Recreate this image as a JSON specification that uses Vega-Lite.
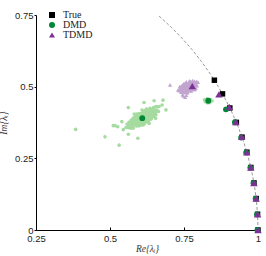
{
  "$schema": "https://vega.github.io/schema/vega-lite/v6.json",
  "autosize": {"type": "none"},
  "width": 222,
  "height": 215,
  "padding": {"left": 36, "top": 15, "right": 8, "bottom": 26},
  "background": "white",
  "config": {
    "view": {"stroke": null},
    "axis": {
      "grid": false,
      "domainColor": "black",
      "domainWidth": 1,
      "tickColor": "black",
      "labelFont": "Liberation Sans",
      "labelFontSize": 9.5,
      "labelColor": "#222",
      "titleFont": "Liberation Serif",
      "titleFontStyle": "italic",
      "titleFontWeight": "normal",
      "titleFontSize": 9.5,
      "titleColor": "#333"
    },
    "legend": {
      "orient": "none", "legendX": 11, "legendY": -5, "padding": 0,
      "labelFont": "Liberation Serif", "labelFontSize": 10, "labelColor": "#222",
      "rowPadding": -2, "labelOffset": 6, "symbolStrokeWidth": 0, "symbolSize": 36
    }
  },
  "datasets": {
    "circle": [
      {"a": 0, "x": 1.0, "y": 0.0},
      {"a": 3, "x": 0.99863, "y": 0.05234},
      {"a": 6, "x": 0.99452, "y": 0.10453},
      {"a": 9, "x": 0.98769, "y": 0.15643},
      {"a": 12, "x": 0.97815, "y": 0.20791},
      {"a": 15, "x": 0.96593, "y": 0.25882},
      {"a": 18, "x": 0.95106, "y": 0.30902},
      {"a": 21, "x": 0.93358, "y": 0.35837},
      {"a": 24, "x": 0.91355, "y": 0.40674},
      {"a": 27, "x": 0.89101, "y": 0.45399},
      {"a": 30, "x": 0.86603, "y": 0.5},
      {"a": 33, "x": 0.83867, "y": 0.54464},
      {"a": 36, "x": 0.80902, "y": 0.58779},
      {"a": 39, "x": 0.77715, "y": 0.62932},
      {"a": 42, "x": 0.74314, "y": 0.66913},
      {"a": 45, "x": 0.70711, "y": 0.70711},
      {"a": 48, "x": 0.66913, "y": 0.74314},
      {"a": 48.59, "x": 0.66144, "y": 0.75}
    ],
    "greenCloud": [
      {"x": 0.597, "y": 0.3884}, {"x": 0.632, "y": 0.3947}, {"x": 0.574, "y": 0.3678}, {"x": 0.617, "y": 0.4084},
      {"x": 0.650, "y": 0.4186}, {"x": 0.604, "y": 0.3703}, {"x": 0.582, "y": 0.3862}, {"x": 0.624, "y": 0.4003},
      {"x": 0.642, "y": 0.3942}, {"x": 0.561, "y": 0.3576}, {"x": 0.611, "y": 0.3891}, {"x": 0.590, "y": 0.3676},
      {"x": 0.636, "y": 0.4179}, {"x": 0.600, "y": 0.4061}, {"x": 0.661, "y": 0.4146}, {"x": 0.578, "y": 0.3810},
      {"x": 0.620, "y": 0.3871}, {"x": 0.607, "y": 0.3959}, {"x": 0.647, "y": 0.4269}, {"x": 0.567, "y": 0.3699},
      {"x": 0.628, "y": 0.3815}, {"x": 0.594, "y": 0.3828}, {"x": 0.615, "y": 0.3803}, {"x": 0.638, "y": 0.4100},
      {"x": 0.585, "y": 0.3678}, {"x": 0.654, "y": 0.4038}, {"x": 0.602, "y": 0.3982}, {"x": 0.571, "y": 0.3551},
      {"x": 0.622, "y": 0.4152}, {"x": 0.588, "y": 0.3955}, {"x": 0.666, "y": 0.4304}, {"x": 0.612, "y": 0.3857},
      {"x": 0.596, "y": 0.3629}, {"x": 0.633, "y": 0.4022}, {"x": 0.554, "y": 0.3578}, {"x": 0.644, "y": 0.4203},
      {"x": 0.606, "y": 0.3784}, {"x": 0.626, "y": 0.4064}, {"x": 0.580, "y": 0.3691}, {"x": 0.618, "y": 0.4170},
      {"x": 0.592, "y": 0.3867}, {"x": 0.656, "y": 0.4179}, {"x": 0.564, "y": 0.3753}, {"x": 0.630, "y": 0.4116},
      {"x": 0.598, "y": 0.3800}, {"x": 0.640, "y": 0.4001}, {"x": 0.584, "y": 0.3913}, {"x": 0.609, "y": 0.3930},
      {"x": 0.649, "y": 0.3960}, {"x": 0.576, "y": 0.3609}, {"x": 0.623, "y": 0.3827}, {"x": 0.603, "y": 0.4027},
      {"x": 0.635, "y": 0.4243}, {"x": 0.569, "y": 0.3680}, {"x": 0.616, "y": 0.4029}, {"x": 0.589, "y": 0.3630},
      {"x": 0.659, "y": 0.4295}, {"x": 0.595, "y": 0.3953}, {"x": 0.645, "y": 0.4068}, {"x": 0.608, "y": 0.3675},
      {"x": 0.627, "y": 0.3959}, {"x": 0.573, "y": 0.3752}, {"x": 0.613, "y": 0.4112}, {"x": 0.639, "y": 0.4145},
      {"x": 0.586, "y": 0.3764}, {"x": 0.621, "y": 0.3856}, {"x": 0.601, "y": 0.3786}, {"x": 0.652, "y": 0.4047},
      {"x": 0.558, "y": 0.3690}, {"x": 0.631, "y": 0.4171}, {"x": 0.593, "y": 0.3912}, {"x": 0.619, "y": 0.3965},
      {"x": 0.579, "y": 0.3555}, {"x": 0.643, "y": 0.4087}, {"x": 0.605, "y": 0.3958}, {"x": 0.664, "y": 0.4133},
      {"x": 0.583, "y": 0.3777}, {"x": 0.625, "y": 0.3778}, {"x": 0.599, "y": 0.3705}, {"x": 0.634, "y": 0.3918},
      {"x": 0.572, "y": 0.3837}, {"x": 0.610, "y": 0.4026}, {"x": 0.648, "y": 0.4165}, {"x": 0.591, "y": 0.3731},
      {"x": 0.629, "y": 0.4050}, {"x": 0.565, "y": 0.3568}, {"x": 0.637, "y": 0.3874}, {"x": 0.587, "y": 0.3979},
      {"x": 0.614, "y": 0.3748}, {"x": 0.655, "y": 0.4303},
      {"x": 0.5994, "y": 0.3808}, {"x": 0.6274, "y": 0.4061}, {"x": 0.581, "y": 0.3807}, {"x": 0.6154, "y": 0.3788},
      {"x": 0.6418, "y": 0.3984}, {"x": 0.605, "y": 0.4052}, {"x": 0.5874, "y": 0.3695}, {"x": 0.621, "y": 0.3933},
      {"x": 0.6354, "y": 0.4156}, {"x": 0.5706, "y": 0.3791}, {"x": 0.6106, "y": 0.3927}, {"x": 0.5938, "y": 0.3953},
      {"x": 0.6306, "y": 0.3865}, {"x": 0.6018, "y": 0.3658}, {"x": 0.6506, "y": 0.4123}, {"x": 0.5842, "y": 0.3711},
      {"x": 0.6178, "y": 0.4029}, {"x": 0.6074, "y": 0.3823}, {"x": 0.6394, "y": 0.3874}, {"x": 0.5754, "y": 0.3722},
      {"x": 0.6242, "y": 0.4157}, {"x": 0.597, "y": 0.3837}, {"x": 0.6138, "y": 0.4051}, {"x": 0.6322, "y": 0.3962},
      {"x": 0.5898, "y": 0.3906}, {"x": 0.645, "y": 0.4168}, {"x": 0.6034, "y": 0.3755}, {"x": 0.5786, "y": 0.3906},
      {"x": 0.6194, "y": 0.3766}, {"x": 0.5922, "y": 0.3656}, {"x": 0.6546, "y": 0.4011}, {"x": 0.6114, "y": 0.3971},
      {"x": 0.5986, "y": 0.4054}, {"x": 0.6282, "y": 0.3995}, {"x": 0.565, "y": 0.3726}, {"x": 0.637, "y": 0.3913},
      {"x": 0.6066, "y": 0.3989}, {"x": 0.6226, "y": 0.3890}, {"x": 0.5858, "y": 0.3848}, {"x": 0.6162, "y": 0.3712},
      {"x": 0.5954, "y": 0.3780}, {"x": 0.6466, "y": 0.4045}, {"x": 0.573, "y": 0.3642}, {"x": 0.6258, "y": 0.3874},
      {"x": 0.6002, "y": 0.3901}, {"x": 0.6338, "y": 0.4079}, {"x": 0.589, "y": 0.3662}, {"x": 0.609, "y": 0.387},
      {"x": 0.641, "y": 0.4201}, {"x": 0.5826, "y": 0.3894},
      {"x": 0.6216, "y": 0.4137}, {"x": 0.6036, "y": 0.3674}, {"x": 0.6324, "y": 0.3718}, {"x": 0.573, "y": 0.378},
      {"x": 0.6153, "y": 0.3804}, {"x": 0.591, "y": 0.4048}, {"x": 0.654, "y": 0.3894}, {"x": 0.5964, "y": 0.3689},
      {"x": 0.6414, "y": 0.4047}, {"x": 0.6081, "y": 0.4183}, {"x": 0.6252, "y": 0.4006}, {"x": 0.5766, "y": 0.3727},
      {"x": 0.6126, "y": 0.3665}, {"x": 0.636, "y": 0.3886}, {"x": 0.5883, "y": 0.3844}, {"x": 0.6198, "y": 0.4079},
      {"x": 0.6018, "y": 0.3967}, {"x": 0.6477, "y": 0.4146}, {"x": 0.5631, "y": 0.3656}, {"x": 0.6288, "y": 0.3771},
      {"x": 0.5946, "y": 0.3722}, {"x": 0.618, "y": 0.3917}, {"x": 0.582, "y": 0.4044}, {"x": 0.6396, "y": 0.4002},
      {"x": 0.6054, "y": 0.3784}, {"x": 0.6585, "y": 0.4156}, {"x": 0.5856, "y": 0.3796}, {"x": 0.6234, "y": 0.4221},
      {"x": 0.600, "y": 0.4052}, {"x": 0.6315, "y": 0.4131},
      {"x": 0.384, "y": 0.351}, {"x": 0.483, "y": 0.325}, {"x": 0.531, "y": 0.296}, {"x": 0.594, "y": 0.320},
      {"x": 0.562, "y": 0.427}, {"x": 0.679, "y": 0.453}, {"x": 0.649, "y": 0.451}, {"x": 0.615, "y": 0.445},
      {"x": 0.517, "y": 0.364}, {"x": 0.689, "y": 0.419}, {"x": 0.511, "y": 0.364}, {"x": 0.526, "y": 0.360},
      {"x": 0.540, "y": 0.378}, {"x": 0.562, "y": 0.334}, {"x": 0.545, "y": 0.350}, {"x": 0.676, "y": 0.436},
      {"x": 0.822, "y": 0.447}, {"x": 0.840, "y": 0.455}, {"x": 0.828, "y": 0.458}, {"x": 0.837, "y": 0.444},
      {"x": 0.825, "y": 0.452}, {"x": 0.845, "y": 0.450}, {"x": 0.830, "y": 0.443}, {"x": 0.819, "y": 0.454},
      {"x": 0.888, "y": 0.418}, {"x": 0.896, "y": 0.424}, {"x": 0.919, "y": 0.373}, {"x": 0.926, "y": 0.379}
    ],
    "purpleCloud": [
      {"x": 0.7558, "y": 0.5017}, {"x": 0.7768, "y": 0.4953}, {"x": 0.742, "y": 0.4911}, {"x": 0.7678, "y": 0.5128},
      {"x": 0.7876, "y": 0.5106}, {"x": 0.760, "y": 0.4830}, {"x": 0.7468, "y": 0.5049}, {"x": 0.772, "y": 0.5031},
      {"x": 0.7828, "y": 0.4914}, {"x": 0.7342, "y": 0.4864}, {"x": 0.7642, "y": 0.4975}, {"x": 0.7516, "y": 0.4854},
      {"x": 0.7792, "y": 0.5148}, {"x": 0.7576, "y": 0.5166}, {"x": 0.7942, "y": 0.5032}, {"x": 0.7444, "y": 0.5016},
      {"x": 0.7696, "y": 0.4926}, {"x": 0.7618, "y": 0.5050}, {"x": 0.7858, "y": 0.5191}, {"x": 0.7378, "y": 0.4954},
      {"x": 0.7744, "y": 0.4848}, {"x": 0.754, "y": 0.4977}, {"x": 0.7666, "y": 0.4882}, {"x": 0.7804, "y": 0.5070},
      {"x": 0.7486, "y": 0.4873}, {"x": 0.790, "y": 0.4959}, {"x": 0.7588, "y": 0.5088}, {"x": 0.7402, "y": 0.4807},
      {"x": 0.7708, "y": 0.5172}, {"x": 0.7504, "y": 0.5112}, {"x": 0.7972, "y": 0.5157}, {"x": 0.7648, "y": 0.4941},
      {"x": 0.7552, "y": 0.4791}, {"x": 0.7774, "y": 0.5017}, {"x": 0.730, "y": 0.4890}, {"x": 0.784, "y": 0.5142},
      {"x": 0.7612, "y": 0.4896}, {"x": 0.7732, "y": 0.5079}, {"x": 0.7456, "y": 0.4902}, {"x": 0.7684, "y": 0.5202},
      {"x": 0.7528, "y": 0.5019}, {"x": 0.7912, "y": 0.5079}, {"x": 0.736, "y": 0.5013}, {"x": 0.7756, "y": 0.5112},
      {"x": 0.7564, "y": 0.4938}, {"x": 0.7816, "y": 0.4974}, {"x": 0.748, "y": 0.5088}, {"x": 0.763, "y": 0.5017},
      {"x": 0.787, "y": 0.4906}, {"x": 0.7432, "y": 0.4842}, {"x": 0.7714, "y": 0.4876}, {"x": 0.7594, "y": 0.5125},
      {"x": 0.7786, "y": 0.5209}, {"x": 0.739, "y": 0.4930}, {"x": 0.7672, "y": 0.5082}, {"x": 0.751, "y": 0.4816},
      {"x": 0.793, "y": 0.5173}, {"x": 0.7546, "y": 0.5086}, {"x": 0.7846, "y": 0.5017}, {"x": 0.7624, "y": 0.4790},
      {"x": 0.757, "y": 0.4936}, {"x": 0.7745, "y": 0.5082}, {"x": 0.7455, "y": 0.4972}, {"x": 0.767, "y": 0.4888},
      {"x": 0.7835, "y": 0.4991}, {"x": 0.7605, "y": 0.5120}, {"x": 0.7495, "y": 0.4870}, {"x": 0.7705, "y": 0.4992},
      {"x": 0.7795, "y": 0.5142}, {"x": 0.739, "y": 0.4980}, {"x": 0.764, "y": 0.5008}, {"x": 0.7535, "y": 0.5063},
      {"x": 0.7765, "y": 0.4918}, {"x": 0.7585, "y": 0.4811}, {"x": 0.789, "y": 0.5084}, {"x": 0.7475, "y": 0.4889},
      {"x": 0.7685, "y": 0.5075}, {"x": 0.762, "y": 0.4932}, {"x": 0.782, "y": 0.4908}, {"x": 0.742, "y": 0.4916},
      {"x": 0.7725, "y": 0.5165}, {"x": 0.7555, "y": 0.4964}, {"x": 0.766, "y": 0.5101}, {"x": 0.7775, "y": 0.4993},
      {"x": 0.751, "y": 0.5033}, {"x": 0.7855, "y": 0.5132}, {"x": 0.7595, "y": 0.4886}, {"x": 0.744, "y": 0.5056},
      {"x": 0.7695, "y": 0.4862}, {"x": 0.7525, "y": 0.4829},
      {"x": 0.748, "y": 0.468}, {"x": 0.754, "y": 0.463}, {"x": 0.745, "y": 0.472}, {"x": 0.758, "y": 0.470},
      {"x": 0.703, "y": 0.506}
    ],
    "main": [
      {"series": "True", "x": 1.0, "y": 0.0},
      {"series": "True", "x": 0.99849, "y": 0.05495},
      {"series": "True", "x": 0.99396, "y": 0.10973},
      {"series": "True", "x": 0.98643, "y": 0.16419},
      {"series": "True", "x": 0.97592, "y": 0.21814},
      {"series": "True", "x": 0.96246, "y": 0.27144},
      {"series": "True", "x": 0.94609, "y": 0.32392},
      {"series": "True", "x": 0.92686, "y": 0.37541},
      {"series": "True", "x": 0.90483, "y": 0.42578},
      {"series": "True", "x": 0.88006, "y": 0.47486},
      {"series": "True", "x": 0.85264, "y": 0.5225},
      {"series": "DMD", "x": 0.998, "y": 0.0},
      {"series": "DMD", "x": 0.9965, "y": 0.0548},
      {"series": "DMD", "x": 0.992, "y": 0.1095},
      {"series": "DMD", "x": 0.9845, "y": 0.1638},
      {"series": "DMD", "x": 0.974, "y": 0.2176},
      {"series": "DMD", "x": 0.960, "y": 0.2705},
      {"series": "DMD", "x": 0.943, "y": 0.3225},
      {"series": "DMD", "x": 0.922, "y": 0.3760},
      {"series": "DMD", "x": 0.892, "y": 0.4210},
      {"series": "DMD", "x": 0.832, "y": 0.4510},
      {"series": "DMD", "x": 0.609, "y": 0.3900},
      {"series": "TDMD", "x": 1.0, "y": 0.0},
      {"series": "TDMD", "x": 0.9985, "y": 0.0549},
      {"series": "TDMD", "x": 0.9938, "y": 0.1097},
      {"series": "TDMD", "x": 0.9862, "y": 0.1641},
      {"series": "TDMD", "x": 0.9756, "y": 0.2180},
      {"series": "TDMD", "x": 0.9620, "y": 0.2712},
      {"series": "TDMD", "x": 0.9450, "y": 0.3250},
      {"series": "TDMD", "x": 0.9250, "y": 0.3770},
      {"series": "TDMD", "x": 0.9030, "y": 0.4290},
      {"series": "TDMD", "x": 0.8680, "y": 0.4730},
      {"series": "TDMD", "x": 0.7780, "y": 0.5020}
    ]
  },
  "encoding": {
    "x": {
      "field": "x", "type": "quantitative",
      "scale": {"domain": [0.25, 1], "nice": false, "zero": false},
      "axis": {"values": [0.25, 0.5, 0.75, 1], "labelExpr": "datum.value == 1 ? '1' : format(datum.value, '.2~f')", "tickSize": -3, "labelPadding": 6, "title": "Re{λᵢ}", "titlePadding": 1, "labelFlush": false}
    },
    "y": {
      "field": "y", "type": "quantitative",
      "scale": {"domain": [0, 0.75], "nice": false},
      "axis": {"values": [0, 0.25, 0.5, 0.75], "labelExpr": "datum.value == 0 ? '0' : format(datum.value, '.2~f')", "tickSize": 2, "labelPadding": 1, "title": "Im{λᵢ}", "titlePadding": 6, "labelFlush": false}
    }
  },
  "layer": [
    {
      "data": {"name": "greenCloud"},
      "mark": {"type": "point", "shape": "circle", "filled": true, "size": 13, "color": "#a6dba0", "opacity": 1}
    },
    {
      "data": {"name": "purpleCloud"},
      "mark": {"type": "point", "shape": "triangle-up", "filled": true, "size": 18, "color": "#c2a5cf", "opacity": 1}
    },
    {
      "data": {"name": "circle"},
      "mark": {"type": "line", "color": "#999999", "strokeWidth": 1, "strokeDash": [3, 2]},
      "encoding": {"order": {"field": "a", "type": "quantitative"}}
    },
    {
      "data": {"name": "main"},
      "transform": [{"filter": "datum.series === 'True'"}],
      "mark": {"type": "point", "filled": true, "opacity": 1, "size": 30},
      "encoding": {
        "shape": {"field": "series", "type": "nominal", "scale": {"domain": ["True", "DMD", "TDMD"], "range": ["square", "circle", "triangle-up"]}, "legend": {"title": null}},
        "color": {"field": "series", "type": "nominal", "scale": {"domain": ["True", "DMD", "TDMD"], "range": ["#000000", "#008837", "#7b3294"]}, "legend": {"title": null}}
      }
    },
    {
      "data": {"name": "main"},
      "transform": [{"filter": "datum.series === 'DMD'"}],
      "mark": {"type": "point", "filled": true, "opacity": 1, "size": 34},
      "encoding": {
        "shape": {"field": "series", "type": "nominal", "scale": {"domain": ["True", "DMD", "TDMD"], "range": ["square", "circle", "triangle-up"]}, "legend": {"title": null}},
        "color": {"field": "series", "type": "nominal", "scale": {"domain": ["True", "DMD", "TDMD"], "range": ["#000000", "#008837", "#7b3294"]}, "legend": {"title": null}}
      }
    },
    {
      "data": {"name": "main"},
      "transform": [{"filter": "datum.series === 'TDMD'"}],
      "mark": {"type": "point", "filled": true, "opacity": 1, "size": 55},
      "encoding": {
        "shape": {"field": "series", "type": "nominal", "scale": {"domain": ["True", "DMD", "TDMD"], "range": ["square", "circle", "triangle-up"]}, "legend": {"title": null}},
        "color": {"field": "series", "type": "nominal", "scale": {"domain": ["True", "DMD", "TDMD"], "range": ["#000000", "#008837", "#7b3294"]}, "legend": {"title": null}}
      }
    }
  ]
}
